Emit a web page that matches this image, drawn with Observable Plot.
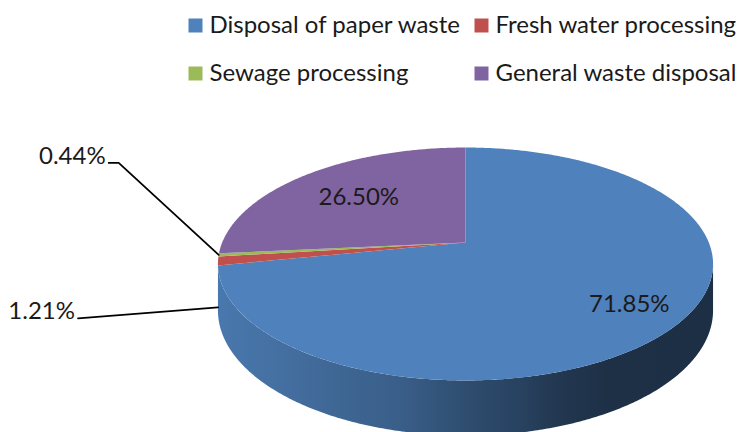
<!DOCTYPE html>
<html>
<head>
<meta charset="utf-8">
<script src="https://cdn.jsdelivr.net/npm/d3@7"></script>
<script src="https://cdn.jsdelivr.net/npm/@observablehq/plot@0.6"></script>
<style>
  html, body { margin: 0; padding: 0; background: #fff; }
  #chart svg { display: block; }
</style>
</head>
<body>
<div id="chart"></div>
<script>
// Share of each waste / water activity (percent of total)
const categories = [
  "Disposal of paper waste",
  "Fresh water processing",
  "Sewage processing",
  "General waste disposal"
];
const shares = [71.85, 1.21, 0.44, 26.50];

// Office-style series palette
const palette = ["#4F81BD", "#C0504D", "#9BBB59", "#8064A2"];

const fmt = v => d3.format(".2f")(v) + "%";
const data = categories.map((category, i) => ({category, share: shares[i]}));

// --- tilted, extruded pie geometry -----------------------------------------
const W = 740, H = 432;
const pie = {cx: 465, cy: 242, rx: 243.3, ry: 112.5, k: 0.1845, depth: 45};

// angle clockwise from 12 o'clock, r = fraction of radius, drop = extrusion
function project(theta, r = 1, drop = 0) {
  const u = r * Math.sin(theta), v = -r * Math.cos(theta);
  const s = 1 / (1 - pie.k * v);
  return [pie.cx + pie.rx * u * s, pie.cy + pie.ry * v * s + drop * s];
}
function arc(a0, a1, drop) {
  const n = Math.max(2, Math.ceil(Math.abs(a1 - a0) / (Math.PI / 360)));
  return d3.range(n + 1).map(i => project(a0 + (a1 - a0) * i / n, 1, drop));
}

const slices = d3.pie().sort(null).value(d => d.share)(data);

// top faces
const topPts = slices.flatMap(s =>
  [[pie.cx, pie.cy], ...arc(s.startAngle, s.endAngle, 0)]
    .map(([x, y]) => ({category: s.data.category, x, y})));

// front wall: only the part of the rim that faces the viewer
const tR = Math.acos(-pie.k), tL = 2 * Math.PI - tR;
const walls = slices.map((s, i) => {
  const a0 = Math.max(s.startAngle, tR), a1 = Math.min(s.endAngle, tL);
  if (a1 <= a0) return null;
  const pts = [...arc(a0, a1, 0), ...arc(a1, a0, pie.depth)]
    .map(([x, y]) => ({x, y}));
  return {i, pts};
}).filter(Boolean);

// shading of the wall, left (lit) to right (shadow)
const xMin = project(tL)[0], xMax = project(tR)[0];
const shadeStops = [
  [0.00, 1.00], [0.17, 0.90], [0.37, 0.78], [0.51, 0.63],
  [0.61, 0.55], [0.69, 0.46], [0.79, 0.40], [1.00, 0.39]
];
function defsMark() {
  const defs = d3.create("svg:defs");
  palette.forEach((c, i) => {
    const base = d3.rgb(c);
    const g = defs.append("linearGradient")
      .attr("id", `wall-${i}`)
      .attr("gradientUnits", "userSpaceOnUse")
      .attr("x1", xMin).attr("x2", xMax).attr("y1", 0).attr("y2", 0);
    shadeStops.forEach(([t, f]) => {
      const col = d3.rgb(base.r * f * 0.93, base.g * f * 0.93, base.b * f * 0.92);
      g.append("stop").attr("offset", t).attr("stop-color", col.formatHex());
    });
  });
  return defs.node();
}

// --- data labels -----------------------------------------------------------
const labelLayout = {
  "Disposal of paper waste": {inside: 0.79},
  "General waste disposal": {inside: 0.64},
  "Sewage processing": {anchor: 0, dx: -100, dy: -92, tail: 10},
  "Fresh water processing": {anchor: 1, dx: -140, dy: 11, tail: 0}
};
const insideLabels = [], outsideLabels = [], leaders = [];
slices.forEach(s => {
  const L = labelLayout[s.data.category];
  const mid = (s.startAngle + s.endAngle) / 2;
  if (L.inside) {
    const [x, y] = project(mid, L.inside);
    insideLabels.push({x, y, text: fmt(s.data.share)});
  } else {
    const [ax, ay] = project(mid, 1, L.anchor * pie.depth);
    const ex = ax + L.dx, ey = ay + L.dy;
    const pts = [[ax, ay], [ex, ey]];
    if (L.tail) pts.push([ex - L.tail, ey]);
    pts.forEach(([x, y]) => leaders.push({category: s.data.category, x, y}));
    const [tx, ty] = pts[pts.length - 1];
    outsideLabels.push({x: tx - 3, y: ty - 7, text: fmt(s.data.share)});
  }
});

// --- legend (two rows of two) ---------------------------------------------
const legendCols = [195, 481], legendRows = [25, 73];
const legend = data.map((d, i) => ({
  category: d.category,
  x: legendCols[i % 2],
  y: legendRows[Math.floor(i / 2)]
}));

const font = "Lato, 'Open Sans', sans-serif";
const fontSize = 24;
const ink = "#1a1a1a";

const chart = Plot.plot({
  width: W,
  height: H,
  margin: 0,
  x: {domain: [0, W], range: [0, W], axis: null},
  y: {domain: [0, H], range: [0, H], axis: null},
  color: {domain: categories, range: palette},
  style: {background: "#fff", fontFamily: font},
  marks: [
    defsMark,
    ...walls.map(w => Plot.line(w.pts, {
      x: "x", y: "y", fill: `url(#wall-${w.i})`, stroke: "none", curve: "linear-closed"
    })),
    Plot.line(topPts, {
      x: "x", y: "y", z: "category", fill: "category", stroke: "none", curve: "linear-closed"
    }),
    Plot.line(leaders, {
      x: "x", y: "y", z: "category", stroke: "#000", strokeWidth: 1.8
    }),
    Plot.text(insideLabels, {
      x: "x", y: "y", text: "text", fill: ink, fontSize, textAnchor: "middle", lineAnchor: "middle"
    }),
    Plot.text(outsideLabels, {
      x: "x", y: "y", text: "text", fill: ink, fontSize, textAnchor: "end", lineAnchor: "middle"
    }),
    Plot.dot(legend, {
      x: "x", y: "y", fill: "category", symbol: "square", r: 7.9, stroke: "none"
    }),
    Plot.text(legend, {
      x: d => d.x + 14, y: "y", text: "category", fill: ink, fontSize,
      textAnchor: "start", lineAnchor: "middle"
    })
  ]
});

document.getElementById("chart").appendChild(chart);
</script>
</body>
</html>
